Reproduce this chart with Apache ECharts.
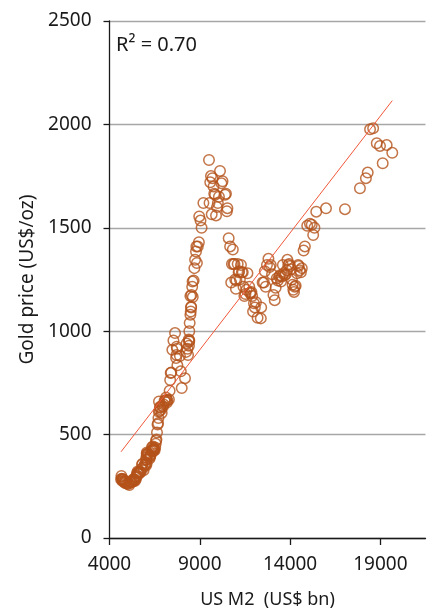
<!DOCTYPE html>
<html>
<head>
<meta charset="utf-8">
<script src="https://cdn.jsdelivr.net/npm/echarts@6/dist/echarts.min.js"></script>
<style>
  html, body { margin: 0; padding: 0; background: #fff; }
  #chart { width: 427px; height: 609px; }
</style>
</head>
<body>
<div id="chart"></div>
<script>
// US M2 money stock (US$ bn), month by month, Jan 2000 onwards
const m2 = [
  4640, 4660, 4680, 4710, 4720, 4740, 4760, 4790, 4820, 4840, 4860, 4900,
  4950, 5000, 5050, 5100, 5120, 5160, 5200, 5230, 5330, 5310, 5340, 5400,
  5450, 5470, 5480, 5500, 5530, 5560, 5600, 5620, 5650, 5690, 5720, 5760,
  5800, 5830, 5860, 5890, 5950, 5980, 6020, 6060, 6050, 6040, 6040, 6060,
  6070, 6090, 6120, 6170, 6220, 6240, 6250, 6270, 6300, 6320, 6350, 6400,
  6410, 6410, 6420, 6430, 6450, 6480, 6500, 6530, 6560, 6580, 6600, 6630,
  6660, 6690, 6710, 6730, 6740, 6770, 6790, 6820, 6850, 6890, 6920, 6960,
  7000, 7050, 7080, 7130, 7160, 7180, 7210, 7290, 7330, 7360, 7390, 7420,
  7480, 7540, 7630, 7690, 7710, 7720, 7740, 7760, 7900, 7950, 8000, 8180,
  8250, 8270, 8320, 8350, 8390, 8400, 8410, 8420, 8420, 8440, 8480, 8500,
  8480, 8520, 8520, 8540, 8580, 8600, 8610, 8660, 8700, 8740, 8790, 8810,
  8840, 8890, 8950, 8970, 9040, 9100, 9200, 9510, 9540, 9580, 9620, 9660,
  9700, 9760, 9800, 9850, 9900, 9950, 10000, 10060, 10120, 10200, 10260, 10400,
  10450, 10500, 10530, 10600, 10680, 10740, 10780, 10830, 10870, 10920, 10960, 11000,
  11030, 11100, 11150, 11180, 11220, 11280, 11330, 11380, 11420, 11470, 11530, 11580,
  11640, 11740, 11780, 11820, 11860, 11900, 11950, 12000, 12050, 12110, 12200, 12380,
  12400, 12480, 12550, 12600, 12650, 12720, 12800, 12870, 12930, 13000, 13080, 13150,
  13200, 13260, 13320, 13400, 13450, 13500, 13550, 13600, 13650, 13700, 13760, 13820,
  13850, 13900, 13950, 14000, 14050, 14100, 14140, 14180, 14220, 14260, 14310, 14380,
  14450, 14480, 14530, 14600, 14650, 14750, 14820, 14950, 15100, 15200, 15280, 15350,
  15450, 15990, 17040, 17870, 18200, 18300, 18430, 18600, 18800, 18980, 19130, 19350,
  19660
];

// Gold price (US$/oz), same months
const gold = [
  284, 300, 286, 280, 275, 285, 282, 274, 273, 270, 266, 272,
  265, 261, 263, 256, 272, 270, 268, 273, 283, 283, 276, 276,
  282, 296, 294, 302, 314, 321, 314, 310, 319, 317, 319, 333,
  356, 359, 340, 328, 355, 356, 351, 360, 379, 379, 389, 407,
  414, 405, 406, 404, 384, 392, 398, 400, 406, 420, 439, 442,
  424, 423, 434, 429, 422, 430, 424, 438, 456, 470, 476, 510,
  549, 555, 580, 610, 660, 615, 633, 632, 620, 605, 640, 635,
  645, 665, 660, 679, 667, 655, 665, 670, 712, 764, 798, 800,
  910, 955, 991, 870, 885, 925, 915, 835, 880, 806, 725, 773,
  900, 940, 915, 885, 960, 930, 950, 955, 1000, 1040, 1170, 1095,
  1080, 1118, 1115, 1175, 1215, 1240, 1165, 1245, 1305, 1345, 1385, 1410,
  1330, 1410, 1430, 1555, 1535, 1500, 1620, 1828, 1620, 1720, 1750, 1565,
  1740, 1700, 1665, 1660, 1560, 1600, 1620, 1650, 1775, 1715, 1725, 1660,
  1665, 1580, 1595, 1450, 1410, 1235, 1325, 1395, 1325, 1325, 1250, 1205,
  1245, 1325, 1285, 1290, 1250, 1320, 1285, 1285, 1215, 1170, 1180, 1200,
  1280, 1215, 1185, 1185, 1190, 1170, 1095, 1135, 1115, 1140, 1065, 1062,
  1115, 1235, 1235, 1290, 1215, 1320, 1350, 1310, 1320, 1275, 1175, 1150,
  1210, 1255, 1245, 1265, 1270, 1240, 1265, 1320, 1280, 1270, 1275, 1295,
  1345, 1320, 1325, 1315, 1300, 1250, 1225, 1200, 1190, 1215, 1220, 1280,
  1320, 1315, 1295, 1285, 1305, 1390, 1410, 1510, 1520, 1515, 1465, 1500,
  1578, 1594, 1590, 1691, 1740, 1767, 1976, 1981, 1909, 1896, 1812, 1900,
  1863
];

// Least-squares trend line end points
const trendX = [4640, 19660];
const trendY = [417, 2115];

const rSquaredText = 'R² = 0.70';
const xTicks = [4000, 9000, 14000, 19000];
const yTicks = [0, 500, 1000, 1500, 2000, 2500];

const FONT = '"Noto Sans", "Open Sans", sans-serif';
const INK = '#1a1a1a';

const points = m2.map((v, i) => [v, gold[i]]);
const trend = trendX.map((v, i) => [v, trendY[i]]);

const chart = echarts.init(document.getElementById('chart'), null, { renderer: 'canvas' });
chart.setOption({
  animation: false,
  backgroundColor: '#ffffff',
  grid: {
    left: 109.5, right: 1.5, top: 21, bottom: 71,
    containLabel: false, outerBoundsMode: 'none'
  },
  xAxis: {
    type: 'value',
    min: xTicks[0],
    max: 21500,
    interval: 5000,
    name: 'US M2  (US$ bn)',
    nameLocation: 'middle',
    nameGap: 53,
    nameTextStyle: { color: INK, fontFamily: FONT, fontSize: 18 },
    axisLine: { show: true, onZero: false, lineStyle: { color: INK, width: 1.3 } },
    axisTick: { show: true, length: 7, lineStyle: { color: INK, width: 1.3 } },
    axisLabel: { color: INK, fontFamily: FONT, fontSize: 19, margin: 17,
      showMaxLabel: false, formatter: v => String(v) },
    splitLine: { show: false }
  },
  yAxis: {
    type: 'value',
    min: yTicks[0],
    max: yTicks[yTicks.length - 1],
    interval: 500,
    name: 'Gold price (US$/oz)',
    nameLocation: 'middle',
    nameGap: 70,
    nameRotate: 90,
    nameTextStyle: { color: INK, fontFamily: FONT, fontSize: 19 },
    axisLine: { show: true, lineStyle: { color: INK, width: 1.3 } },
    axisTick: { show: true, length: 6, lineStyle: { color: INK, width: 1.3 } },
    axisLabel: { color: INK, fontFamily: FONT, fontSize: 19, margin: 18,
      formatter: v => String(v) },
    splitLine: { show: true, lineStyle: { color: '#a6a6a6', width: 1.3 } }
  },
  graphic: [{
    type: 'text',
    left: 116,
    top: 35,
    style: { text: rSquaredText, fill: INK, font: '20px ' + FONT }
  }],
  series: [
    {
      type: 'scatter',
      data: points,
      symbol: 'circle',
      symbolSize: 10.5,
      itemStyle: { color: 'rgba(0,0,0,0)', borderColor: '#b4531a', borderWidth: 1.5 },
      z: 3
    },
    {
      type: 'line',
      data: trend,
      showSymbol: false,
      lineStyle: { color: '#f0583a', width: 1 },
      z: 4
    }
  ]
});
</script>
</body>
</html>
